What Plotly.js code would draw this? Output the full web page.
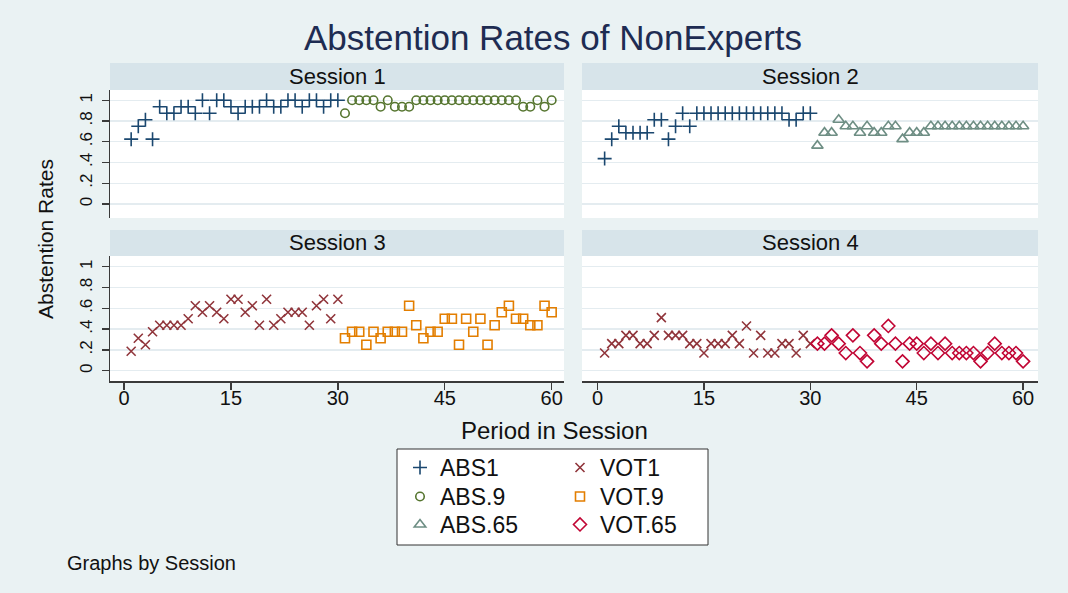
<!DOCTYPE html>
<html>
<head>
<meta charset="utf-8">
<script src="https://cdn.plot.ly/plotly-3.0.1.min.js"></script>
<style>html,body{margin:0;padding:0;background:#eaf2f3;}#chart{width:1068px;height:593px;}</style>
</head>
<body>
<div id="chart"></div>
<script>
// ---- data ----
const periodsFirst = [1,2,3,4,5,6,7,8,9,10,11,12,13,14,15,16,17,18,19,20,21,22,23,24,25,26,27,28,29,30];
const periodsSecond = [31,32,33,34,35,36,37,38,39,40,41,42,43,44,45,46,47,48,49,50,51,52,53,54,55,56,57,58,59,60];

const s1ABS1 = [0.625,0.75,0.8125,0.625,0.9375,0.875,0.875,0.9375,0.9375,0.875,1,0.875,1,1,0.9375,0.875,0.9375,0.9375,0.9375,1,0.9375,0.9375,1,1,0.9375,1,1,0.9375,1,1];
const s1ABS9 = [0.875,1,1,1,1,0.9375,1,0.9375,0.9375,0.9375,1,1,1,1,1,1,1,1,1,1,1,1,1,1,1,0.9375,0.9375,1,0.9375,1];
const s2ABS1 = [0.4375,0.625,0.75,0.6875,0.6875,0.6875,0.6875,0.8125,0.8125,0.625,0.75,0.875,0.75,0.875,0.875,0.875,0.875,0.875,0.875,0.875,0.875,0.875,0.875,0.875,0.875,0.875,0.8125,0.8125,0.875,0.875];
const s2ABS65 = [0.5625,0.6875,0.6875,0.8125,0.75,0.75,0.6875,0.75,0.6875,0.6875,0.75,0.75,0.625,0.6875,0.6875,0.6875,0.75,0.75,0.75,0.75,0.75,0.75,0.75,0.75,0.75,0.75,0.75,0.75,0.75,0.75];
const s3VOT1 = [0.1875,0.3125,0.25,0.375,0.4375,0.4375,0.4375,0.4375,0.5,0.625,0.5625,0.625,0.5625,0.5,0.6875,0.6875,0.5625,0.625,0.4375,0.6875,0.4375,0.5,0.5625,0.5625,0.5625,0.4375,0.625,0.6875,0.5,0.6875];
const s3VOT9 = [0.3125,0.375,0.375,0.25,0.375,0.3125,0.375,0.375,0.375,0.625,0.4375,0.3125,0.375,0.375,0.5,0.5,0.25,0.5,0.375,0.5,0.25,0.4375,0.5625,0.625,0.5,0.5,0.4375,0.4375,0.625,0.5625];
const s4VOT1 = [0.17,0.26,0.26,0.34,0.34,0.26,0.26,0.34,0.51,0.34,0.34,0.34,0.26,0.26,0.17,0.26,0.26,0.26,0.34,0.26,0.43,0.17,0.34,0.17,0.17,0.26,0.26,0.17,0.34,0.26];
const s4VOT65 = [0.26,0.26,0.34,0.26,0.17,0.34,0.17,0.09,0.34,0.26,0.43,0.26,0.09,0.26,0.26,0.17,0.26,0.17,0.26,0.17,0.17,0.17,0.17,0.09,0.17,0.26,0.17,0.17,0.17,0.09];

const yTickVals = [0,0.2,0.4,0.6,0.8,1];
const yTickText = ['0','.2','.4','.6','.8','1'];
const xTickVals = [0,15,30,45,60];
const xTickText = ['0','15','30','45','60'];
const sessionNames = ['Session 1','Session 2','Session 3','Session 4'];

// ---- styling ----
const FONT = 'Liberation Sans, Arial, Helvetica, sans-serif';
const C = {navy:'#1a476f', green:'#55752f', teal:'#6e8e84', maroon:'#90353b', orange:'#e37e00', cran:'#c10534'};
const W = 1068, H = 593;
const px = v => v / W;
const py = v => 1 - v / H;

function tr(x, y, xa, ya, name, sym, color, size, show, legend) {
  return {
    type:'scatter', mode:'markers', x:x, y:y, xaxis:xa, yaxis:ya, name:name,
    legend:legend, showlegend:show,
    marker:{symbol:sym, color:color, size:size, line:{color:color, width:1.6}},
    hoverinfo:'skip'
  };
}

const data = [
  tr(periodsFirst, s1ABS1, 'x', 'y', 'ABS1', 'cross-thin', C.navy, 10, true, 'legend'),
  tr(periodsSecond, s1ABS9, 'x', 'y', 'ABS.9', 'circle-open', C.green, 8.5, true, 'legend2'),
  tr(periodsFirst, s2ABS1, 'x2', 'y2', 'ABS1', 'cross-thin', C.navy, 10, false, 'legend'),
  tr(periodsSecond, s2ABS65, 'x2', 'y2', 'ABS.65', 'triangle-up-open', C.teal, 10, true, 'legend3'),
  tr(periodsFirst, s3VOT1, 'x3', 'y3', 'VOT1', 'x-thin', C.maroon, 9, true, 'legend4'),
  tr(periodsSecond, s3VOT9, 'x3', 'y3', 'VOT.9', 'square-open', C.orange, 9, true, 'legend5'),
  tr(periodsFirst, s4VOT1, 'x4', 'y4', 'VOT1', 'x-thin', C.maroon, 9, false, 'legend4'),
  tr(periodsSecond, s4VOT65, 'x4', 'y4', 'VOT.65', 'diamond-open', C.cran, 10, true, 'legend6')
];

const LEFT = [px(110), px(564)], RIGHT = [px(582), px(1038)];
const TOP = [py(218), py(90)], BOT = [py(381), py(256)];
const gridC = '#e4ecf0', lineC = '#3a3a3a';

function xAx(dom, range, anchor, shown) {
  return {domain:dom, range:range, anchor:anchor, zeroline:false, showgrid:false,
    showline:shown, linecolor:lineC, linewidth:1.5,
    ticks:shown?'outside':'', ticklen:7, tickwidth:1.3, tickcolor:lineC,
    tickvals:xTickVals, ticktext:xTickText, showticklabels:shown, ticklabelstandoff:-9,
    tickfont:{family:FONT, size:20, color:'#111'}, fixedrange:true};
}
function yAx(dom, range, anchor, shown) {
  return {domain:dom, range:range, anchor:anchor, zeroline:false, showgrid:true,
    gridcolor:gridC, gridwidth:1.3,
    showline:shown, linecolor:lineC, linewidth:1.5,
    ticks:shown?'outside':'', ticklen:7, tickwidth:1.3, tickcolor:lineC,
    tickvals:yTickVals, ticktext:yTickText, showticklabels:shown, tickangle:-90, ticklabelstandoff:3,
    tickfont:{family:FONT, size:17, color:'#111'}, fixedrange:true};
}

const strips = [
  [110,564,63,90],[582,1038,63,90],[110,564,230,256],[582,1038,230,256]
];
const shapes = strips.map(s => ({type:'rect', xref:'paper', yref:'paper', x0:px(s[0]), x1:px(s[1]), y0:py(s[3]), y1:py(s[2]), fillcolor:'#d7e4ea', line:{width:0}, layer:'below'}));
shapes.push({type:'rect', xref:'paper', yref:'paper', x0:px(397), x1:px(708), y0:py(545), y1:py(449), fillcolor:'#ffffff', line:{color:'#333333', width:1}, layer:'below'});

const annotations = strips.map((s,i) => ({xref:'paper', yref:'paper', x:px((s[0]+s[1])/2), y:py((s[2]+s[3])/2), text:sessionNames[i], showarrow:false, xanchor:'center', yanchor:'middle', font:{family:FONT, size:22, color:'#111'}}));
annotations.push({xref:'paper', yref:'paper', x:px(553), y:py(37), text:'Abstention Rates of NonExperts', showarrow:false, xanchor:'center', yanchor:'middle', font:{family:FONT, size:35, color:'#1e2c52'}});
annotations.push({xref:'paper', yref:'paper', x:px(45), y:py(239), text:'Abstention Rates', showarrow:false, textangle:-90, xanchor:'center', yanchor:'middle', font:{family:FONT, size:21, color:'#111'}});
annotations.push({xref:'paper', yref:'paper', x:px(554), y:py(430), text:'Period in Session', showarrow:false, xanchor:'center', yanchor:'middle', font:{family:FONT, size:24, color:'#111'}});
annotations.push({xref:'paper', yref:'paper', x:px(65), y:py(563), text:'Graphs by Session', showarrow:false, xanchor:'left', yanchor:'middle', font:{family:FONT, size:20, color:'#111'}});

function leg(xPix, rowCenter) {
  return {x:px(xPix), y:py(rowCenter - 21), xanchor:'left', yanchor:'top', bgcolor:'rgba(0,0,0,0)', borderwidth:0, orientation:'v', font:{family:FONT, size:23, color:'#111'}, itemclick:false, itemdoubleclick:false};
}
const rows = [467, 496, 524];

const layout = {
  width:W, height:H, margin:{l:0, r:0, t:0, b:0},
  paper_bgcolor:'#eaf2f3', plot_bgcolor:'#ffffff',
  showlegend:true,
  xaxis: xAx(LEFT, [-1.97, 61.73], 'y', false),
  yaxis: yAx(TOP, [-0.135, 1.099], 'x', true),
  xaxis2: xAx(RIGHT, [-2.19, 62.1], 'y2', false),
  yaxis2: yAx(TOP, [-0.135, 1.099], 'x2', false),
  xaxis3: xAx(LEFT, [-1.97, 61.73], 'y3', true),
  yaxis3: yAx(BOT, [-0.099, 1.103], 'x3', true),
  xaxis4: xAx(RIGHT, [-2.19, 62.1], 'y4', true),
  yaxis4: yAx(BOT, [-0.099, 1.103], 'x4', false),
  legend: leg(400, rows[0]),
  legend2: leg(400, rows[1]),
  legend3: leg(400, rows[2]),
  legend4: leg(560, rows[0]),
  legend5: leg(560, rows[1]),
  legend6: leg(560, rows[2]),
  shapes:shapes, annotations:annotations
};

Plotly.newPlot('chart', data, layout, {staticPlot:true, displayModeBar:false});
</script>
</body>
</html>
